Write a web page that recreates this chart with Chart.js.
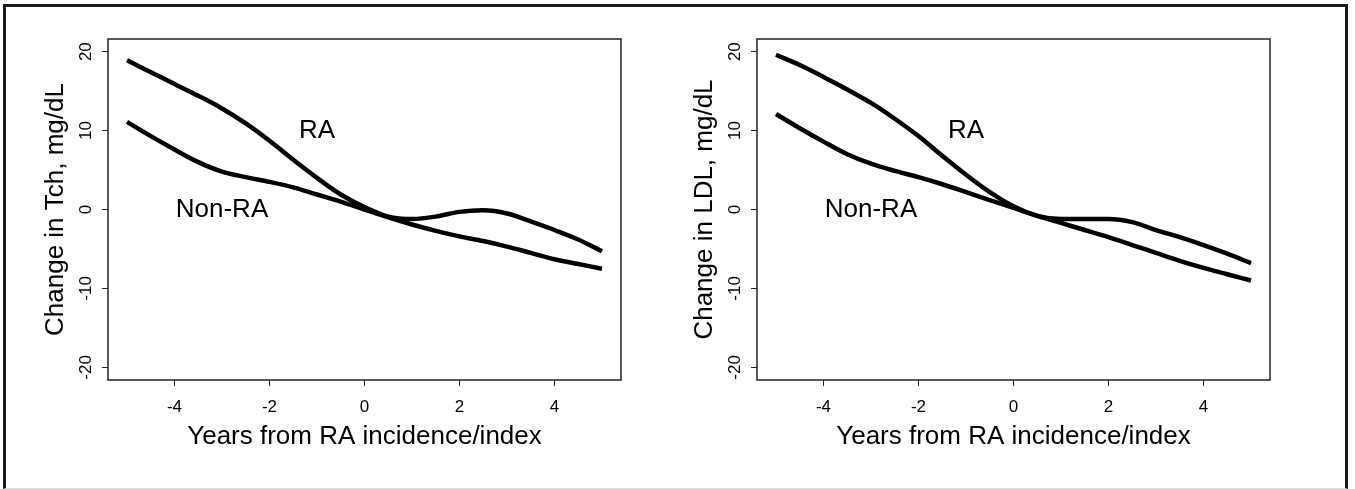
<!DOCTYPE html>
<html>
<head>
<meta charset="utf-8">
<script src="https://cdn.jsdelivr.net/npm/chart.js@4.4.0/dist/chart.umd.min.js"></script>
<style>
  html, body { margin: 0; padding: 0; background: #fff; }
  #page { position: relative; width: 1355px; height: 489px; overflow: hidden; background: #fff; }
  #frame { position: absolute; left: 3px; top: 4px; width: 1339px; height: 481px;
    border: 3px solid #1a1a1a; border-bottom: 1px solid #ddd; }
  .panel { position: absolute; top: 0; width: 649px; height: 489px; }
</style>
</head>
<body>
<div id="page">
  <div id="frame"></div>
  <div class="panel" style="left:0"><canvas id="tch" width="649" height="489"></canvas></div>
  <div class="panel" style="left:649px"><canvas id="ldl" width="649" height="489"></canvas></div>
</div>
<script>
// years from RA incidence/index
const years = [-5, -4.5, -4, -3.5, -3, -2.5, -2, -1.5, -1, -0.5, 0, 0.5, 1, 1.5, 2, 2.5, 3, 3.5, 4, 4.5, 5]

// change in total cholesterol, mg/dL
const tchRA = [18.9, 17.4, 15.9, 14.4, 12.8, 10.9, 8.7, 6.3, 4.0, 1.9, 0.3, -0.9, -1.2, -0.9, -0.3, -0.1, -0.5, -1.5, -2.6, -3.8, -5.3]
const tchNonRA = [11.1, 9.3, 7.6, 6.0, 4.8, 4.1, 3.5, 2.8, 1.9, 1.0, 0.0, -1.0, -1.9, -2.7, -3.4, -4.0, -4.7, -5.5, -6.3, -6.9, -7.5]

// change in LDL, mg/dL
const ldlRA = [19.6, 18.3, 16.8, 15.2, 13.5, 11.5, 9.3, 6.8, 4.4, 2.2, 0.4, -0.8, -1.2, -1.2, -1.2, -1.6, -2.6, -3.5, -4.5, -5.6, -6.8]
const ldlNonRA = [12.1, 10.3, 8.6, 7.0, 5.8, 4.9, 4.1, 3.2, 2.2, 1.2, 0.2, -0.8, -1.7, -2.6, -3.5, -4.5, -5.5, -6.5, -7.4, -8.2, -9.0]

const xTicks = [-4, -2, 0, 2, 4]
const yTicks = [-20, -10, 0, 10, 20]

// curve labels (text, x, y in data units)
const noteText = ['RA', 'Non-RA']
const noteX = [-1, -3]
const noteY = [10, 0]

const FONT = '"Liberation Sans", Arial, Helvetica, sans-serif'
Chart.defaults.font.family = FONT
Chart.defaults.color = '#000'

// box round the plot + curve labels
const boxPlugin = {
  id: 'rbox',
  afterDatasetsDraw(chart) {
    const { ctx, chartArea: a, scales } = chart
    ctx.save()
    ctx.strokeStyle = '#222'
    ctx.lineWidth = 1.5
    ctx.strokeRect(a.left, a.top, a.right - a.left, a.bottom - a.top)
    ctx.fillStyle = '#000'
    ctx.font = '26px ' + FONT
    ctx.textAlign = 'center'
    ctx.textBaseline = 'middle'
    noteText.forEach((t, i) => {
      ctx.fillText(t, scales.x.getPixelForValue(noteX[i]), scales.y.getPixelForValue(noteY[i]))
    })
    ctx.restore()
  },
}

function toPoints(ys) {
  return years.map((x, i) => ({ x: x, y: ys[i] }))
}

function makeChart(id, yTitle, ra, nonRa) {
  const ctx = document.getElementById(id).getContext('2d')
  return new Chart(ctx, {
    type: 'line',
    data: {
      datasets: [
        {
          label: 'RA',
          data: toPoints(ra),
          borderColor: '#000',
          borderWidth: 4.5,
          pointRadius: 0,
          cubicInterpolationMode: 'monotone',
          fill: false,
        },
        {
          label: 'Non-RA',
          data: toPoints(nonRa),
          borderColor: '#000',
          borderWidth: 4.5,
          pointRadius: 0,
          cubicInterpolationMode: 'monotone',
          fill: false,
        },
      ],
    },
    options: {
      responsive: false,
      animation: false,
      layout: { padding: { top: 39, right: 28, bottom: 0, left: 0 } },
      plugins: {
        legend: { display: false },
        tooltip: { enabled: false },
      },
      scales: {
        x: {
          type: 'linear',
          min: -5.4,
          max: 5.4,
          afterBuildTicks: (s) => { s.ticks = xTicks.map((v) => ({ value: v })) },
          afterFit: (s) => { s.height = 109 },
          ticks: {
            font: { size: 17 },
            color: '#000',
            padding: 11,
            maxRotation: 0,
            callback: (v) => String(v),
          },
          grid: { drawOnChartArea: false, drawTicks: true, tickLength: 6, color: '#222', lineWidth: 1 },
          border: { display: false },
          title: {
            display: true,
            text: 'Years from RA incidence/index',
            font: { size: 26 },
            color: '#000',
            padding: { top: 0, bottom: 37 },
          },
        },
        y: {
          type: 'linear',
          min: -21.6,
          max: 21.6,
          afterBuildTicks: (s) => { s.ticks = yTicks.map((v) => ({ value: v })) },
          afterFit: (s) => { s.width = 108 },
          ticks: {
            font: { size: 17 },
            color: '#000',
            padding: 3,
            minRotation: 90,
            maxRotation: 90,
            crossAlign: 'center',
            callback: (v) => String(v),
          },
          grid: { drawOnChartArea: false, drawTicks: true, tickLength: 6, color: '#222', lineWidth: 1 },
          border: { display: false },
          title: {
            display: true,
            text: yTitle,
            font: { size: 26 },
            color: '#000',
            padding: { top: 40, bottom: 0 },
          },
        },
      },
    },
    plugins: [boxPlugin],
  })
}

makeChart('tch', 'Change in Tch, mg/dL', tchRA, tchNonRA)
makeChart('ldl', 'Change in LDL, mg/dL', ldlRA, ldlNonRA)
</script>
</body>
</html>
